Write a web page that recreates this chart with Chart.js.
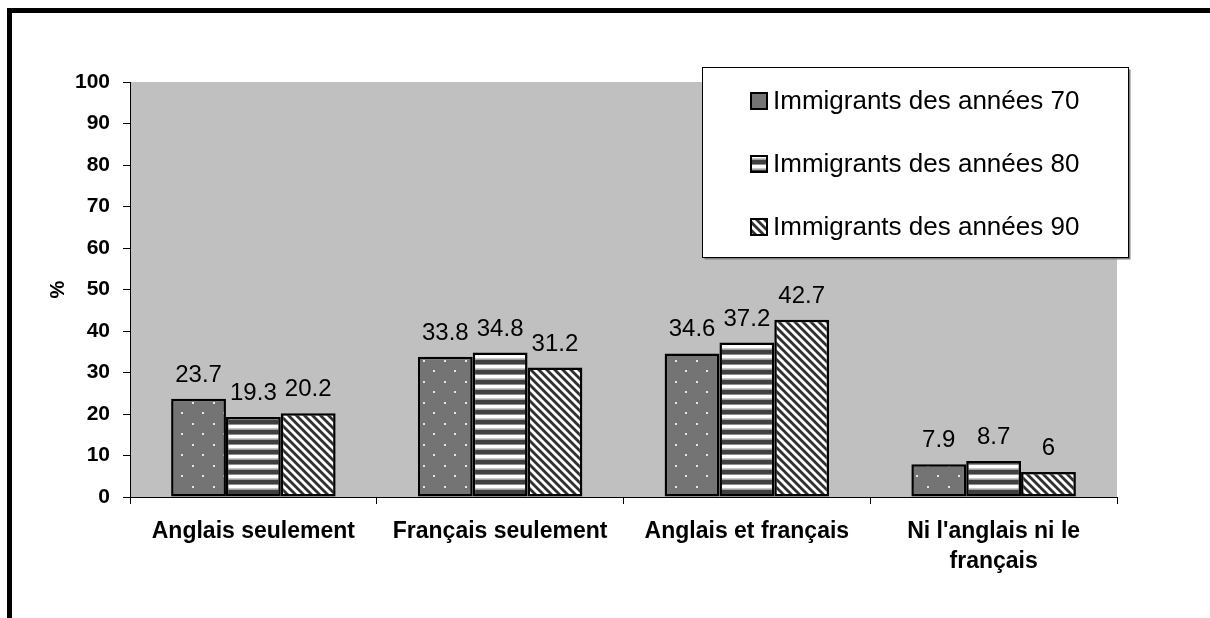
<!DOCTYPE html>
<html>
<head>
<meta charset="utf-8">
<script src="https://cdn.jsdelivr.net/npm/chart.js@4.4.1/dist/chart.umd.min.js"></script>
<style>
html,body{margin:0;padding:0;background:#fff;overflow:hidden;}
#wrap{width:1210px;height:618px;position:relative;}
</style>
</head>
<body>
<div id="wrap"><canvas id="c"></canvas></div>
<script>
const categories = ['Anglais seulement', 'Français seulement', 'Anglais et français', ["Ni l'anglais ni le", 'français']];
const seriesNames = ['Immigrants des années 70', 'Immigrants des années 80', 'Immigrants des années 90'];
const values70 = [23.7, 33.8, 34.6, 7.9];
const values80 = [19.3, 34.8, 37.2, 8.7];
const values90 = [20.2, 31.2, 42.7, 6];
const yTicks = [0, 10, 20, 30, 40, 50, 60, 70, 80, 90, 100];
const yTitle = '%';

function tile(w, h, fn) {
  const c = document.createElement('canvas');
  c.width = w; c.height = h;
  const g = c.getContext('2d');
  const img = g.createImageData(w, h);
  for (let y = 0; y < h; y++) for (let x = 0; x < w; x++) {
    const v = fn(x, y), i = (y * w + x) * 4;
    img.data[i] = v; img.data[i + 1] = v; img.data[i + 2] = v; img.data[i + 3] = 255;
  }
  g.putImageData(img, 0, 0);
  return c;
}
const ctx0 = document.getElementById('c').getContext('2d');
const dotTile = tile(21, 21, (x, y) => ((x >= 3 && x < 5 && y >= 3 && y < 5) || (x >= 13 && x < 15 && y >= 13 && y < 15)) ? 0xe6 : 0x74);
const stripeTile = tile(1, 10, (x, y) => [0x40, 0x40, 0x40, 0x40, 0x90, 0xff, 0xff, 0xff, 0xc8, 0xa0][y]);
const diagTile = tile(8, 8, (x, y) => { const d = (x - y + 16) % 8; return d < 3 ? 0x30 : (d === 3 || d === 7 ? 0x99 : 0xff); });
const patterns = [ctx0.createPattern(dotTile, 'repeat'), ctx0.createPattern(stripeTile, 'repeat'), ctx0.createPattern(diagTile, 'repeat')];
const seriesValues = [values70, values80, values90];

const framePlugin = {
  id: 'frame',
  beforeDraw(chart) {
    const g = chart.ctx, a = chart.chartArea;
    g.save();
    g.fillStyle = '#fff';
    g.fillRect(0, 0, chart.width, chart.height);
    g.strokeStyle = '#000';
    g.lineWidth = 5;
    g.strokeRect(9.5, 10.5, 1400, 1000);
    g.fillStyle = '#c0c0c0';
    g.fillRect(a.left, a.top, a.right - a.left, a.bottom - a.top);
    g.restore();
  }
};

const labelPlugin = {
  id: 'vals',
  afterDatasetsDraw(chart) {
    const g = chart.ctx;
    g.save();
    g.font = '24px "Liberation Sans", Arial, sans-serif';
    g.fillStyle = '#000';
    g.textAlign = 'center';
    g.textBaseline = 'alphabetic';
    chart.data.datasets.forEach((ds, i) => {
      chart.getDatasetMeta(i).data.forEach((el, j) => {
        g.fillText(String(ds.data[j]), el.x, el.y - 17);
      });
    });
    g.restore();
  }
};

const legendPlugin = {
  id: 'boxLegend',
  afterDraw(chart) {
    const g = chart.ctx;
    const bx = 702.5, by = 67.5, bw = 426, bh = 190;
    g.save();
    g.fillStyle = '#808080';
    g.fillRect(bx + 2, by + 2, bw, bh);
    g.fillStyle = '#fff';
    g.fillRect(bx, by, bw, bh);
    g.strokeStyle = '#000';
    g.lineWidth = 1;
    g.strokeRect(bx, by, bw, bh);
    g.font = '26px "Liberation Sans", Arial, sans-serif';
    g.textBaseline = 'middle';
    g.textAlign = 'left';
    chart.data.datasets.forEach((ds, i) => {
      const cy = 101 + i * 63;
      g.fillStyle = ds.backgroundColor;
      g.fillRect(751, cy - 8, 16, 16);
      g.strokeStyle = '#000';
      g.lineWidth = 2;
      g.strokeRect(751, cy - 8, 16, 16);
      g.fillStyle = '#000';
      g.fillText(ds.label, 773, cy + 1);
    });
    g.restore();
  }
};

new Chart(document.getElementById('c'), {
  type: 'bar',
  data: {
    labels: categories,
    datasets: seriesNames.map((n, i) => ({
      label: n,
      data: seriesValues[i],
      backgroundColor: patterns[i],
      borderColor: '#000',
      borderWidth: 2.5,
      borderSkipped: false,
      categoryPercentage: 0.6667,
      barPercentage: 1.0
    }))
  },
  options: {
    responsive: true,
    maintainAspectRatio: false,
    animation: false,
    devicePixelRatio: 1,
    layout: { padding: { left: 0, right: 93, top: 82, bottom: 0 } },
    plugins: { legend: { display: false }, tooltip: { enabled: false } },
    scales: {
      x: {
        offset: true,
        grid: { offset: true, drawOnChartArea: false, drawTicks: true, tickLength: 7, color: '#000' },
        border: { display: true, color: '#000', width: 1 },
        ticks: { color: '#000', padding: 12, maxRotation: 0, autoSkip: false,
          font: { family: '"Liberation Sans", Arial, sans-serif', size: 23, weight: 'bold', lineHeight: 1.33 } },
        afterFit(s) { s.height = 121; }
      },
      y: {
        min: 0, max: 100,
        afterBuildTicks(s) { s.ticks = yTicks.map(v => ({ value: v })); },
        grid: { drawOnChartArea: false, drawTicks: true, tickLength: 7, color: '#000' },
        border: { display: true, color: '#000', width: 1 },
        ticks: { color: '#000', padding: 13,
          font: { family: '"Liberation Sans", Arial, sans-serif', size: 21, weight: 'bold' } },
        title: { display: true, text: yTitle, color: '#000', padding: { top: 46, bottom: 0 },
          font: { family: '"Liberation Sans", Arial, sans-serif', size: 20, weight: 'bold' } },
        afterFit(s) { s.width = 130; }
      }
    }
  },
  plugins: [framePlugin, labelPlugin, legendPlugin]
});
</script>
</body>
</html>
